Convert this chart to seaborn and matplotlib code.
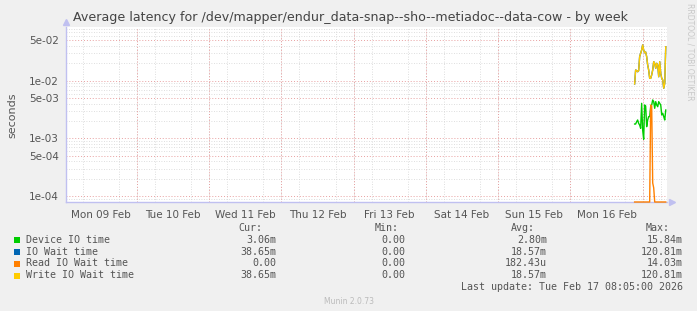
import numpy as np
import pandas as pd
import matplotlib
matplotlib.use("Agg")
import matplotlib.pyplot as plt
import matplotlib.dates as mdates
from matplotlib.ticker import FixedLocator, NullFormatter
from matplotlib.patches import Rectangle
import seaborn as sns

# ---------------- data ----------------
series_names = ["Device IO time", "IO Wait time", "Read IO Wait time", "Write IO Wait time"]
series_colors = ["#00CC00", "#0066B3", "#FF8000", "#FFCC00"]

sample_start = "2026-02-16 21:20"
sample_step = "20min"

device_io = [0.00178, 0.00178, 0.00195, 0.00209, 0.00183, 0.00171, 0.0015, 0.00406,
             0.0014, 0.00097, 0.0038, 0.00365, 0.0016, 0.00209, 0.00239, 0.00239,
             0.00355, 0.0038, 0.00464, 0.00434, 0.00333, 0.00434, 0.0038, 0.00355,
             0.00434, 0.00406, 0.0038, 0.00255, 0.00273, 0.00239, 0.00209, 0.00311]
write_wait = [0.0088, 0.0153, 0.015, 0.0143, 0.0149, 0.026, 0.0298, 0.034,
              0.0415, 0.034, 0.0305, 0.0314, 0.026, 0.0187, 0.0153, 0.011,
              0.011, 0.0126, 0.0153, 0.0213, 0.02, 0.0164, 0.02, 0.0187,
              0.0117, 0.0213, 0.0134, 0.011, 0.0103, 0.0074, 0.009, 0.0387]
io_wait = list(write_wait)
read_wait = [0, 0, 0, 0, 0, 0, 0, 0, 0, 0, 0, 0, 0, 0, 0, 0,
             0.0038, 0.0036, 0.00017, 0.00014, 0, 0, 0, 0,
             0, 0, 0, 0, 0, 0, 0, 0]

stats_cur = ["3.06m", "38.65m", "0.00", "38.65m"]
stats_min = ["0.00", "0.00", "0.00", "0.00"]
stats_avg = ["2.80m", "18.57m", "182.43u", "18.57m"]
stats_max = ["15.84m", "120.81m", "14.03m", "120.81m"]

title = "Average latency for /dev/mapper/endur_data-snap--sho--metiadoc--data-cow - by week"
y_label = "seconds"
y_ticks = [1e-4, 5e-4, 1e-3, 5e-3, 1e-2, 5e-2]
y_ticklabels = ["1e-04", "5e-04", "1e-03", "5e-03", "1e-02", "5e-02"]
x_start = "2026-02-09 00:30"
x_end = "2026-02-17 08:05"
day_labels = pd.date_range("2026-02-09 12:00", periods=8, freq="D")
last_update = "Last update: Tue Feb 17 08:05:00 2026"
version = "Munin 2.0.73"

# ---------------- figure ----------------
W, H = 697, 311
fig = plt.figure(figsize=(W / 100, H / 100), dpi=100, facecolor="#F0F0F0")
L, R, T, B = 66, 667, 27, 202
ax = fig.add_axes([L / W, 1 - B / H, (R - L) / W, (B - T) / H])
ax.set_facecolor("white")

ymin, ymax = 7.96e-5, 8.5e-2
times = pd.date_range(sample_start, periods=len(write_wait), freq=sample_step)
values = [device_io, io_wait, read_wait, write_wait]
for name, col, vals in zip(series_names, series_colors, values):
    v = np.array(vals, dtype=float)
    v = np.where(v > 0, v, ymin)
    df = pd.DataFrame({"t": times, "v": v})
    sns.lineplot(data=df, x="t", y="v", ax=ax, color=col, lw=1.0, legend=False,
                 clip_on=False, zorder=5)

ax.set_yscale("log")
ax.set_ylim(ymin, ymax)
ax.set_xlim(pd.Timestamp(x_start), pd.Timestamp(x_end))

# y grid
ax.yaxis.set_major_locator(FixedLocator(y_ticks))
ax.set_yticklabels(y_ticklabels)
minor_y = [m * 10.0 ** e for e in range(-5, -1) for m in range(2, 10)]
ax.yaxis.set_minor_locator(FixedLocator(minor_y))
ax.yaxis.set_minor_formatter(NullFormatter())
ax.grid(which="minor", axis="y", color="#D4D4D4", ls=(0, (1, 2)), lw=0.6)
ax.grid(which="major", axis="y", color="#E8A0A0", ls=(0, (1, 2)), lw=0.7)

# x grid
ax.xaxis.set_major_locator(FixedLocator(mdates.date2num(day_labels)))
ax.xaxis.set_major_formatter(mdates.DateFormatter("%a %d %b"))
ax.xaxis.set_minor_locator(mdates.HourLocator(byhour=[0, 6, 12, 18]))
ax.grid(which="minor", axis="x", color="#D4D4D4", ls=(0, (1, 2)), lw=0.6)
for d in pd.date_range("2026-02-10", periods=8, freq="D"):
    ax.axvline(d, color="#E8A0A0", ls=(0, (1, 2)), lw=0.7, zorder=1)
ax.set_axisbelow(True)

ax.tick_params(axis="both", which="both", length=0, labelsize=7.5, labelcolor="#555555")
ax.tick_params(axis="x", pad=6)
ax.tick_params(axis="y", pad=5)
ax.set_xlabel("")
ax.set_ylabel("")

for s in ["top", "right"]:
    ax.spines[s].set_visible(False)
for s in ["left", "bottom"]:
    ax.spines[s].set_color("#C0C0F0")
    ax.spines[s].set_linewidth(1.0)
ax.plot([1.008], [0], marker=">", ms=5, color="#C0C0F0", transform=ax.transAxes, clip_on=False)
ax.plot([0], [1.03], marker="^", ms=5, color="#C0C0F0", transform=ax.transAxes, clip_on=False)

def px(x, y):
    return x / W, 1 - y / H

fig.text(*px(350, 18), title, ha="center", va="center", fontsize=9.1, color="#444444")
fig.text(*px(12, 115), y_label, ha="center", va="center", rotation=90, fontsize=8, color="#555555")
fig.text(*px(690, 52), "RRDTOOL / TOBI OETIKER", ha="center", va="center", rotation=270,
         fontsize=5.5, color="#C8C8C8")

mono = "DejaVu Sans Mono"
fs = 7.2
tc = "#555555"
hdr_y = 228
fig.text(*px(262, hdr_y), "Cur:", ha="right", va="center", family=mono, fontsize=fs, color=tc)
fig.text(*px(399, hdr_y), "Min:", ha="right", va="center", family=mono, fontsize=fs, color=tc)
fig.text(*px(535, hdr_y), "Avg:", ha="right", va="center", family=mono, fontsize=fs, color=tc)
fig.text(*px(670, hdr_y), "Max:", ha="right", va="center", family=mono, fontsize=fs, color=tc)
row_y = [240, 252, 263.5, 275.5]
for i, name in enumerate(series_names):
    y = row_y[i]
    fig.patches.append(Rectangle(px(14, y + 3), 6 / W, 6 / H, transform=fig.transFigure,
                                 facecolor=series_colors[i], edgecolor="none"))
    fig.text(*px(26, y), name, ha="left", va="center", family=mono, fontsize=fs, color=tc)
    fig.text(*px(276, y), stats_cur[i], ha="right", va="center", family=mono, fontsize=fs, color=tc)
    fig.text(*px(405, y), stats_min[i], ha="right", va="center", family=mono, fontsize=fs, color=tc)
    fig.text(*px(547, y), stats_avg[i], ha="right", va="center", family=mono, fontsize=fs, color=tc)
    fig.text(*px(683, y), stats_max[i], ha="right", va="center", family=mono, fontsize=fs, color=tc)
fig.text(*px(683, 287.5), last_update, ha="right", va="center", family=mono, fontsize=fs, color=tc)
fig.text(*px(349, 302), version, ha="center", va="center", fontsize=5.5, color="#BBBBBB")

fig.savefig("out.png", dpi=100, facecolor=fig.get_facecolor())
